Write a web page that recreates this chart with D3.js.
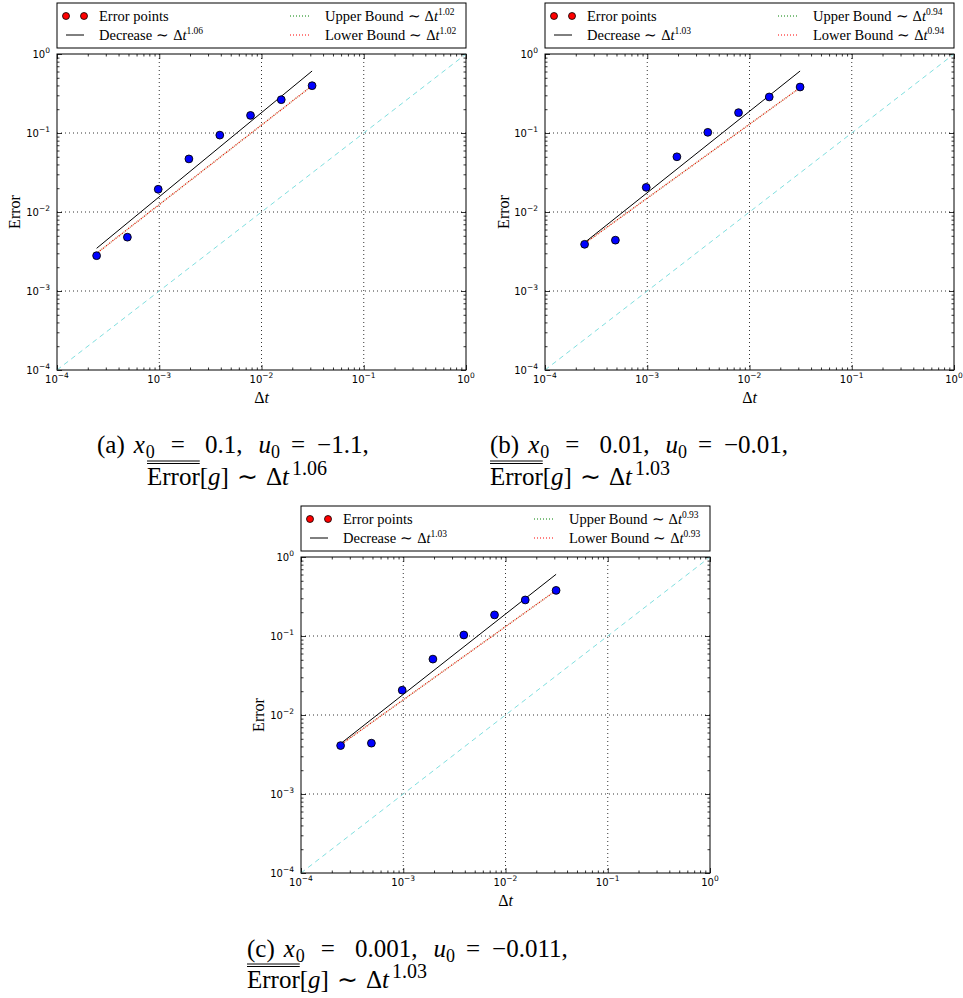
<!DOCTYPE html>
<html><head><meta charset="utf-8">
<script src="https://cdn.jsdelivr.net/npm/d3@7"></script>
<style>body{margin:0;background:#fff} svg{display:block}</style>
</head><body>
<svg id="fig" width="963" height="998"></svg>
<script>
// ---- data ----
const dtValues = [0.000244, 0.000488, 0.000977, 0.00195, 0.00391, 0.00781, 0.0156, 0.03125];
const errorA = [0.0028, 0.0048, 0.0194, 0.047, 0.094, 0.167, 0.264, 0.397];
const errorB = [0.0039, 0.0044, 0.0205, 0.050, 0.102, 0.181, 0.286, 0.382];
const errorC = [0.0041, 0.0044, 0.0206, 0.051, 0.103, 0.185, 0.286, 0.378];
// fitted lines: values at first and last dt
const decreaseA = [0.00347, 0.609];
const boundA = [0.0030, 0.397];
const decreaseB = [0.0041, 0.609];
const boundB = [0.0040, 0.375];
const decreaseC = [0.00434, 0.604];
const boundC = [0.0042, 0.378];
const referenceX = [1e-4, 1];
const referenceY = [1e-4, 1];
const decadeTicks = [1e-4, 1e-3, 1e-2, 1e-1, 1];
const decadeLabels = ["\u22124", "\u22123", "\u22122", "\u22121", "0"];
const decreaseExp = ["1.06", "1.03", "1.03"];
const boundExp = ["1.02", "0.94", "0.93"];
const captionLabels = ["(a)", "(b)", "(c)"];
const captionX0 = ["0.1", "0.01", "0.001"];
const captionU0 = ["\u22121.1", "\u22120.01", "\u22120.011"];
const captionExp = ["1.06", "1.03", "1.03"];

const svg = d3.select("#fig");
const SERIF = "'Liberation Serif', 'Times New Roman', serif";
const SANS = "'DejaVu Sans', sans-serif";
const W = 409, H = 316;

const minorTicks = [];
for (let e = -4; e < 0; e++) for (let m = 2; m <= 9; m++) minorTicks.push(m * Math.pow(10, e));

function supText(sel, base, sup, supSize, rise) {
  sel.append("tspan").text(base);
  sel.append("tspan").attr("font-size", supSize).attr("dy", -rise).text(sup);
}

function drawPanel(idx, left, top, errors, decrease, bound, yLabelX) {
  const g = svg.append("g");
  const x = d3.scaleLog().domain([1e-4, 1]).range([left, left + W]);
  const y = d3.scaleLog().domain([1e-4, 1]).range([top + H, top]);
  const bottom = top + H, right = left + W;

  // grid
  const inner = decadeTicks.slice(1, -1);
  g.selectAll(".gx").data(inner).join("line")
    .attr("x1", d => x(d)).attr("x2", d => x(d)).attr("y1", top).attr("y2", bottom)
    .attr("stroke", "#000").attr("stroke-width", 0.8).attr("stroke-dasharray", "1,3");
  g.selectAll(".gy").data(inner).join("line")
    .attr("y1", d => y(d)).attr("y2", d => y(d)).attr("x1", left).attr("x2", right)
    .attr("stroke", "#000").attr("stroke-width", 0.8).attr("stroke-dasharray", "1,3");

  // axes ticks (inward)
  const mk = (axisFn, scale, vals, size) => axisFn(scale).tickValues(vals).tickSize(-size).tickFormat("");
  const axes = [
    [d3.axisBottom, x, `translate(0,${bottom})`],
    [d3.axisTop, x, `translate(0,${top})`],
    [d3.axisLeft, y, `translate(${left},0)`],
    [d3.axisRight, y, `translate(${right},0)`]
  ];
  axes.forEach(([fn, sc, tr]) => {
    const a1 = g.append("g").attr("transform", tr).call(mk(fn, sc, decadeTicks, 5));
    const a2 = g.append("g").attr("transform", tr).call(mk(fn, sc, minorTicks, 2.5));
    [a1, a2].forEach(a => { a.select(".domain").remove(); a.selectAll("line").attr("stroke", "#000").attr("stroke-width", 0.8); });
  });

  // reference y = x dashed
  g.append("line")
    .attr("x1", x(referenceX[0])).attr("y1", y(referenceY[0]))
    .attr("x2", x(referenceX[1])).attr("y2", y(referenceY[1]))
    .attr("stroke", "#80dfdf").attr("stroke-width", 1).attr("stroke-dasharray", "5,4");

  const ends = [dtValues[0], dtValues[dtValues.length - 1]];
  const line = d3.line().x(d => x(d[0])).y(d => y(d[1]));
  // upper (green) and lower (red) bounds, overlapping
  g.append("path").attr("d", line(ends.map((t, i) => [t, bound[i]])))
    .attr("fill", "none").attr("stroke", "#c08a60").attr("stroke-width", 1.3).attr("stroke-dasharray", "1.2,2.8").attr("stroke-dashoffset", 2);
  g.append("path").attr("d", line(ends.map((t, i) => [t, bound[i]])))
    .attr("fill", "none").attr("stroke", "#e01a00").attr("stroke-width", 1.3).attr("stroke-dasharray", "1.2,2.8");
  // decrease line
  g.append("path").attr("d", line(ends.map((t, i) => [t, decrease[i]])))
    .attr("fill", "none").attr("stroke", "#000").attr("stroke-width", 1);

  // points
  g.selectAll(".pt").data(dtValues.map((t, i) => [t, errors[i]])).join("circle")
    .attr("cx", d => x(d[0])).attr("cy", d => y(d[1])).attr("r", 3.9)
    .attr("fill", "#0000ff").attr("stroke", "#000").attr("stroke-width", 0.9);

  // frame
  g.append("rect").attr("x", left).attr("y", top).attr("width", W).attr("height", H)
    .attr("fill", "none").attr("stroke", "#000").attr("stroke-width", 1);

  // tick labels
  decadeTicks.forEach((d, i) => {
    const tx = g.append("text").attr("x", x(d)).attr("y", bottom + 13)
      .attr("text-anchor", "middle").attr("font-family", SANS).attr("font-size", 10).attr("fill", "#000");
    supText(tx, "10", decadeLabels[i], 7.5, 5);
    const ty = g.append("text").attr("x", left - 7).attr("y", y(d) + 4)
      .attr("text-anchor", "end").attr("font-family", SANS).attr("font-size", 10).attr("fill", "#000");
    supText(ty, "10", decadeLabels[i], 7.5, 5);
  });

  // axis labels
  const xl = g.append("text").attr("x", (left + right) / 2).attr("y", bottom + 33)
    .attr("text-anchor", "middle").attr("font-family", SERIF).attr("font-size", 16);
  xl.append("tspan").text("\u0394");
  xl.append("tspan").attr("font-style", "italic").text("t");
  g.append("text").attr("transform", `translate(${yLabelX},${(top + bottom) / 2}) rotate(-90)`)
    .attr("text-anchor", "middle").attr("dy", "0.35em").attr("font-family", SERIF).attr("font-size", 16).text("Error");

  // legend
  const lt = top - 51;
  g.append("rect").attr("x", left).attr("y", lt).attr("width", W).attr("height", 45)
    .attr("fill", "#fff").attr("stroke", "#000").attr("stroke-width", 1);
  const r1 = lt + 13, r2 = lt + 32;
  [9, 27].forEach(o => g.append("circle").attr("cx", left + o).attr("cy", r1).attr("r", 3.5)
    .attr("fill", "#ff0000").attr("stroke", "#000").attr("stroke-width", 0.8));
  g.append("line").attr("x1", left + 9).attr("x2", left + 27).attr("y1", r2).attr("y2", r2)
    .attr("stroke", "#000").attr("stroke-width", 1);
  g.append("line").attr("x1", left + 233).attr("x2", left + 253).attr("y1", r1).attr("y2", r1)
    .attr("stroke", "#008000").attr("stroke-width", 1).attr("stroke-dasharray", "1,2");
  g.append("line").attr("x1", left + 233).attr("x2", left + 253).attr("y1", r2).attr("y2", r2)
    .attr("stroke", "#ff0000").attr("stroke-width", 1).attr("stroke-dasharray", "1,2");
  const legText = (xx, yy, label, exp) => {
    const t = g.append("text").attr("x", xx).attr("y", yy + 4.5).attr("font-family", SERIF).attr("font-size", 14.5).attr("fill", "#000");
    if (exp === null) { t.text(label); return; }
    t.append("tspan").text(label);
    t.append("tspan").attr("dx", 4).text("\u223C");
    t.append("tspan").attr("dx", 4).text("\u0394");
    t.append("tspan").attr("font-style", "italic").text("t");
    t.append("tspan").attr("font-size", 9.5).attr("dy", -6).text(exp);
  };
  legText(left + 42, r1, "Error points", null);
  legText(left + 42, r2, "Decrease", decreaseExp[idx]);
  legText(left + 268, r1, "Upper Bound", boundExp[idx]);
  legText(left + 268, r2, "Lower Bound", boundExp[idx]);
}

drawPanel(0, 57, 54, errorA, decreaseA, boundA, 14);
drawPanel(1, 545, 54, errorB, decreaseB, boundB, 503);
drawPanel(2, 301, 557, errorC, decreaseC, boundC, 258);

// captions
function caption(idx, x1, x2, b1, b2) {
  const fs = 25, ss = 18;
  const t1 = svg.append("text").attr("x", x1).attr("y", b1)
    .attr("font-family", SERIF).attr("font-size", fs).attr("fill", "#000");
  t1.append("tspan").text(captionLabels[idx]);
  t1.append("tspan").attr("dx", 9).attr("font-style", "italic").text("x");
  t1.append("tspan").attr("font-size", ss).attr("dy", 5).attr("dx", 1).text("0");
  t1.append("tspan").attr("dy", -5).attr("dx", 16).text("=");
  t1.append("tspan").attr("dx", 20).text(captionX0[idx] + ",");
  t1.append("tspan").attr("dx", 16).attr("font-style", "italic").text("u");
  t1.append("tspan").attr("font-size", ss).attr("dy", 5).text("0");
  t1.append("tspan").attr("dy", -5).attr("dx", 11).text("=");
  t1.append("tspan").attr("dx", 12).text(captionU0[idx] + ",");

  const t2 = svg.append("text").attr("x", x2).attr("y", b2)
    .attr("font-family", SERIF).attr("font-size", fs).attr("fill", "#000");
  const err = t2.append("tspan").text("Error");
  t2.append("tspan").text("[");
  t2.append("tspan").attr("font-style", "italic").text("g");
  t2.append("tspan").text("]");
  t2.append("tspan").attr("dx", 8).text("\u223C");
  t2.append("tspan").attr("dx", 8).text("\u0394");
  t2.append("tspan").attr("font-style", "italic").text("t");
  t2.append("tspan").attr("font-size", 20).attr("dy", -10).attr("dx", 3).text(captionExp[idx]);

  const ew = err.node().getComputedTextLength();
  [b2 - 24, b2 - 21.5].forEach(yy => svg.append("line")
    .attr("x1", x2).attr("x2", x2 + ew).attr("y1", yy).attr("y2", yy)
    .attr("stroke", "#000").attr("stroke-width", 1));
}
caption(0, 97, 147, 453, 485);
caption(1, 490, 490, 453, 485);
caption(2, 247, 247, 957, 988);
</script>
</body></html>
